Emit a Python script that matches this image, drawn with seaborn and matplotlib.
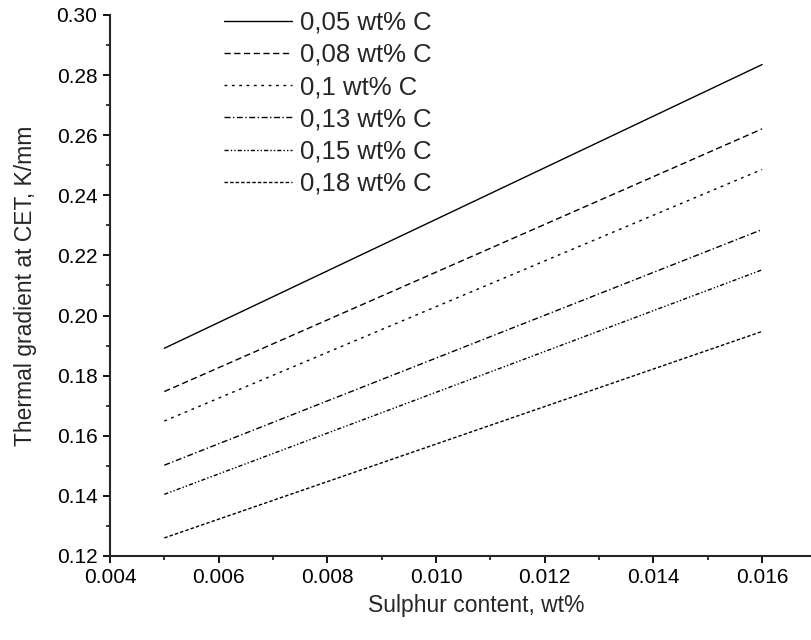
import numpy as np
import matplotlib
matplotlib.use("Agg")
import matplotlib.pyplot as plt
import seaborn as sns
from matplotlib.ticker import MultipleLocator

# sulphur content (wt%) at the ends of each line
sulphur = [0.005, 0.016]

labels = ["0,05 wt% C", "0,08 wt% C", "0,1 wt% C",
          "0,13 wt% C", "0,15 wt% C", "0,18 wt% C"]

# thermal gradient at CET (K/mm)
grad_005 = [0.1891, 0.2835]
grad_008 = [0.1747, 0.2621]
grad_010 = [0.1649, 0.2486]
grad_013 = [0.1502, 0.2286]
grad_015 = [0.1405, 0.2152]
grad_018 = [0.1260, 0.1947]

series = [grad_005, grad_008, grad_010, grad_013, grad_015, grad_018]
styles = ["-", (0, (4.5, 2.5)), (0, (2, 3.3)), (0, (4.3, 1.8, 1, 1.8)),
          (0, (3, 1.5, 1, 1.5, 1, 1.5)), (0, (2.5, 1.5))]

sns.set_style("ticks")
plt.rcParams["font.family"] = ["Liberation Sans", "DejaVu Sans"]

fig = plt.figure(figsize=(8.11, 6.4), dpi=100)
ax = fig.add_axes([0.1356, 0.1313, 0.8644, 0.8453])

for vals, lab, ls in zip(series, labels, styles):
    sns.lineplot(x=sulphur, y=vals, ax=ax, color="black", linewidth=1.0,
                 linestyle=ls, label=lab)

ax.set_xlim(0.004, 0.0169)
ax.set_ylim(0.12, 0.30)
ax.xaxis.set_major_locator(MultipleLocator(0.002))
ax.xaxis.set_minor_locator(MultipleLocator(0.001))
ax.yaxis.set_major_locator(MultipleLocator(0.02))
ax.yaxis.set_minor_locator(MultipleLocator(0.01))
ax.xaxis.set_major_formatter(plt.FormatStrFormatter("%.3f"))
ax.yaxis.set_major_formatter(plt.FormatStrFormatter("%.2f"))

for side in ["top", "right"]:
    ax.spines[side].set_visible(False)
for side in ["left", "bottom"]:
    ax.spines[side].set_linewidth(1.5)
ax.tick_params(which="major", direction="out", length=5, width=1.3,
               labelsize=15, colors="black", pad=4)
ax.tick_params(which="minor", direction="out", length=3, width=1.3)

ax.set_xlabel("Sulphur content, wt%", fontsize=16.5, va="center")
ax.xaxis.set_label_coords(0.522, -0.091)
ax.set_ylabel("Thermal gradient at CET, K/mm", fontsize=16.5, labelpad=14)

ax.legend(loc="upper left", bbox_to_anchor=(0.163, 1.008), frameon=False,
          fontsize=18.5, handlelength=2.65, handletextpad=0.3,
          labelspacing=0.32, borderpad=0, borderaxespad=0)

fig.savefig("out.png", dpi=100)
